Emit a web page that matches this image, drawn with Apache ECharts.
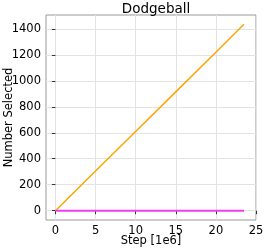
<!DOCTYPE html>
<html>
<head>
<meta charset="utf-8">
<script src="https://cdn.jsdelivr.net/npm/echarts@6/dist/echarts.min.js"></script>
<style>html,body{margin:0;padding:0;background:#fff}#c{width:266px;height:249px}</style>
</head>
<body>
<div id="c"></div>
<script>
var titleText = "Dodgeball";
var xName = "Step [1e6]";
var yName = "Number Selected";
var xTicks = [0, 5, 10, 15, 20, 25];
var yTicks = [0, 200, 400, 600, 800, 1000, 1200, 1400];
var orangeSteps = [0, 5, 10, 15, 20, 23.5];
var orangeValues = [0, 305, 610, 915, 1220, 1435];
var magentaSteps = [0, 23.5];
var magentaValues = [0, 0];

function pairs(xs, ys) { return xs.map(function (x, i) { return [x, ys[i]]; }); }

var font = "DejaVu Sans";
var chart = echarts.init(document.getElementById('c'), null, {renderer: 'canvas'});
chart.setOption({
  animation: false,
  backgroundColor: '#ffffff',
  title: {
    text: titleText, left: 151, top: -3, textAlign: 'center',
    textStyle: {fontFamily: font, fontSize: 13.5, fontWeight: 'normal', color: '#000'}
  },
  grid: {left: 46, right: 10, top: 15, bottom: 29, show: true, borderColor: '#999', borderWidth: 1,
    backgroundColor: 'transparent', containLabel: false, outerBoundsMode: 'none'},
  xAxis: {
    type: 'value', min: -1.175, max: 25,
    name: xName, nameLocation: 'middle', nameGap: 15, nameMoveOverlap: false,
    nameTextStyle: {fontFamily: font, fontSize: 11.5, color: '#000'},
    axisLine: {show: false},
    axisTick: {show: true, inside: false, length: 3.5, customValues: xTicks, lineStyle: {color: '#333'}},
    axisLabel: {customValues: xTicks, fontFamily: font, fontSize: 11.5, color: '#000', margin: 5,
      formatter: function (v) { return String(v); }},
    splitLine: {show: true, lineStyle: {color: '#e3e3e3', width: 1}}
  },
  yAxis: {
    type: 'value', min: -71.75, max: 1506.75,
    name: yName, nameLocation: 'middle', nameGap: 31, nameRotate: 90, nameMoveOverlap: false,
    nameTextStyle: {fontFamily: font, fontSize: 11.5, color: '#000'},
    axisLine: {show: false},
    axisTick: {show: true, inside: false, length: 3.5, customValues: yTicks, lineStyle: {color: '#333'}},
    axisLabel: {customValues: yTicks, fontFamily: font, fontSize: 11.5, color: '#000', margin: 5,
      formatter: function (v) { return String(v); }},
    splitLine: {show: true, lineStyle: {color: '#e3e3e3', width: 1}}
  },
  series: [
    {type: 'line', data: pairs(orangeSteps, orangeValues), showSymbol: false, symbol: 'none',
     lineStyle: {color: '#ffa500', width: 1.5}, z: 3},
    {type: 'line', data: pairs(magentaSteps, magentaValues), showSymbol: false, symbol: 'none',
     lineStyle: {color: '#f03cf0', width: 2}, z: 4}
  ]
});
</script>
</body>
</html>
